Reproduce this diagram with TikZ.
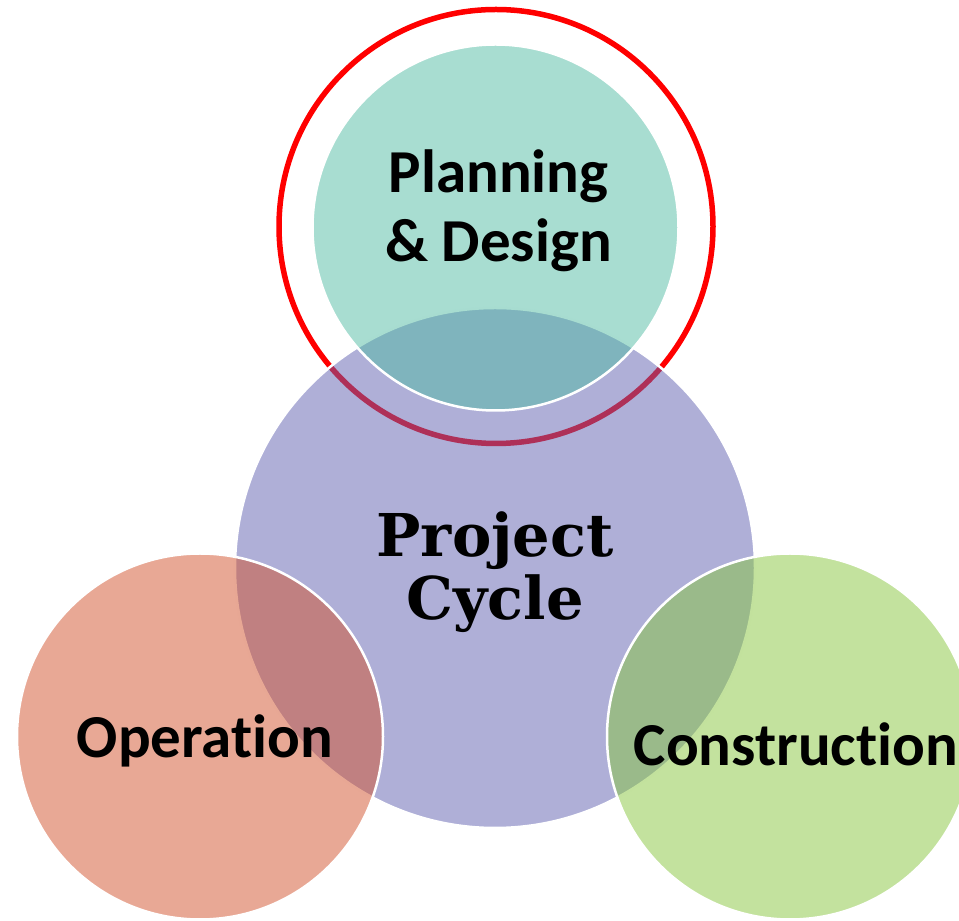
\documentclass[tikz,border=0pt]{standalone}
\usepackage{fontspec}
\setmainfont{Carlito}[Ligatures=NoCommon]
\newfontfamily\titlefont{DejaVu Serif}
\usetikzlibrary{positioning}

\definecolor{cyclefill}{RGB}{95,96,176}
\definecolor{planfill}{RGB}{81,187,163}
\definecolor{opfill}{RGB}{209,81,43}
\definecolor{buildfill}{RGB}{135,197,61}

\tikzset{
  phase/.style={circle, inner sep=0pt, minimum size=366pt, draw=white,
    line width=2.5pt, fill opacity=0.5},
  phasetext/.style={font=\bfseries\fontsize{61}{69}\selectfont, align=center}
}

\begin{document}
\begin{tikzpicture}[x=1pt,y=1pt]
  \useasboundingbox (0,0) rectangle (959,921);
  % highlight ring round the current phase
  \node[circle, inner sep=0pt, minimum size=434pt, draw=red, line width=5.5pt] (ring) at (496,694.5) {};
  \node[phase, minimum size=520pt, fill=cyclefill] (cycle) at (495,353) {};
  \node[phase, fill=planfill] (plan) at (495.5,693.5) {};
  \node[phase, fill=opfill] (operate) at (200,184.5) {};
  \node[phase, fill=buildfill] (build) at (790,184.5) {};

  \node[phasetext] (plantext) at ([xshift=3pt,yshift=17pt]plan.center) {Planning\\\& Design};
  \node[phasetext, font=\titlefont\bfseries\fontsize{59}{63}\selectfont] (cycletext) at ([yshift=-4pt]cycle.center) {Project\\Cycle};
  \node[phasetext] (optext) at ([xshift=5pt,yshift=-4pt]operate.center) {Operation};
  \node[phasetext] (buildtext) at ([xshift=6pt,yshift=-8pt]build.center) {Construction};
\end{tikzpicture}
\end{document}
